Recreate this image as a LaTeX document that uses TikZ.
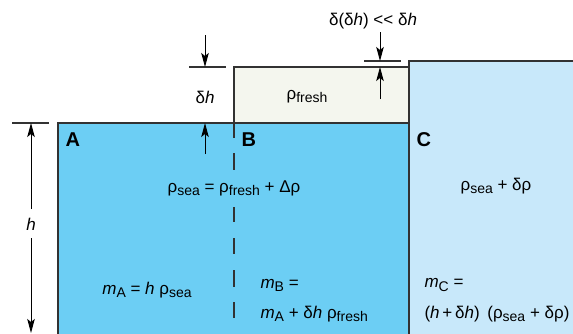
\documentclass[tikz,border=0pt]{standalone}
\usepackage{fontspec}
\setmainfont{Liberation Sans}
\usetikzlibrary{arrows.meta}
\definecolor{seablue}{RGB}{108,206,244}
\definecolor{sealight}{RGB}{200,232,250}
\definecolor{freshcol}{RGB}{244,246,238}
\definecolor{edgegray}{RGB}{50,50,50}
\newcommand{\low}[1]{\raisebox{-0.35ex}{\fontsize{14}{14}\selectfont #1}}
\newcommand{\rsea}{ρ\low{sea}}
\newcommand{\rfresh}{ρ\low{fresh}}
\newcommand{\mass}[1]{\textit{m}\low{#1}}

\begin{document}
\begin{tikzpicture}[x=1pt,y=-1pt,font=\fontsize{17}{20}\selectfont,
  box/.style={draw=edgegray,line width=1.2pt},
  dim/.style={draw=black,line width=0.9pt},
  tick/.style={draw=edgegray,line width=1.3pt},
  dimarrow/.style={dim,-{Stealth[length=14pt,width=7.5pt,inset=3pt]}},
  tag/.style={font=\fontsize{20}{20}\selectfont\bfseries,anchor=west}]
\clip (0,0) rectangle (573,333);
% les trois colonnes d'eau
\fill[seablue] (58,123) rectangle (409,340);
\fill[freshcol] (234,67) rectangle (409,123);
\fill[sealight] (409,61) rectangle (580,340);
\draw[box] (58,340) -- (58,123) -- (409,123);
\draw[box] (234,123) -- (234,67) -- (409,67);
\draw[box] (409,340) -- (409,61) -- (580,61);
% separation A | B (tirets)
\foreach \ya/\yb in {123/138,153/170,207/222,238/254,270/287,302/318}
  \draw[box] (234,\ya) -- (234,\yb);
% column labels
\node[tag] (A) at (62,140) {A};
\node[tag] (B) at (238,140) {B};
\node[tag] (C) at (413,140) {C};
% cote h
\coordinate (htop) at (31,123);
\coordinate (hbot) at (31,333);
\draw[tick] (12,123) -- (49,123);
\node (hlab) at (31,224) {\textit{h}};
\draw[dimarrow] (31,209) -- (htop);
\draw[dimarrow] (31,238) -- (hbot);
% cote delta h
\coordinate (dhtop) at (205,67);
\coordinate (dhbot) at (205,123);
\draw[tick] (189,67) -- (226,67);
\node (dhlab) at (205,97) {δ\textit{h}};
\draw[dimarrow] (205,35) -- (dhtop);
\draw[dimarrow] (205,154) -- (dhbot);
% cote delta(delta h)
\coordinate (ddtop) at (380,61);
\coordinate (ddbot) at (380,67);
\draw[tick] (364,61) -- (401,61);
\node (ddlab) at (373,21) {δ(δ\textit{h}) <{}< δ\textit{h}};
\draw[dimarrow] (380,32) -- (ddtop);
\draw[dimarrow] (380,99) -- (ddbot);
% densities
\node (fresh) at (307,97) {\rfresh};
\node (rhoAB) at (234,188) {\rsea{} = \rfresh{} + Δρ};
\node (rhoC) at (496,186) {\rsea{} + δρ};
% masses
\node (mA) at (147,290) {\mass{A} = \textit{h} \rsea};
\node[anchor=west] (mB) at (257,285) {\mass{B} =};
\node[anchor=west] (mBx) at (257,314) {\mass{A} + δ\textit{h} \rfresh};
\node[anchor=west] (mC) at (421,285) {\mass{C} =};
\node[anchor=west] (mCx) at (421,314) {(\textit{h}\,+\,δ\textit{h}) \,(\rsea{} + δρ)};
\end{tikzpicture}
\end{document}
